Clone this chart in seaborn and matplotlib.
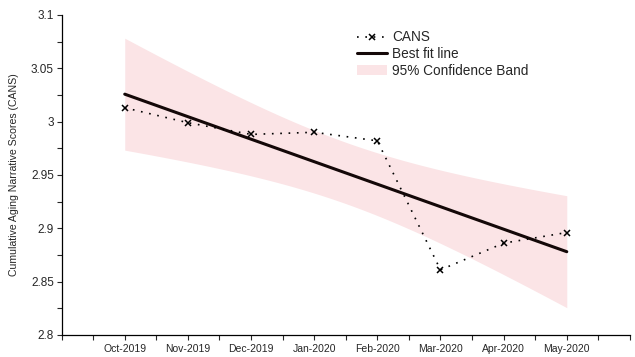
import numpy as np
import pandas as pd
import matplotlib
matplotlib.use("Agg")
import matplotlib.pyplot as plt
import matplotlib.ticker as ticker
from matplotlib.patches import Patch
from matplotlib.lines import Line2D
import seaborn as sns

# monthly CANS scores
months = ["Oct-2019", "Nov-2019", "Dec-2019", "Jan-2020",
          "Feb-2020", "Mar-2020", "Apr-2020", "May-2020"]
month_pos = [1, 2, 3, 4, 5, 6, 7, 8]
cans = [3.013, 2.999, 2.988, 2.990, 2.982, 2.861, 2.886, 2.896]

df = pd.DataFrame({"month": month_pos, "CANS": cans})

# least squares fit and 95% confidence band of the mean
x = np.array(month_pos, dtype=float)
y = np.array(cans)
slope, intercept = np.polyfit(x, y, 1)
n = len(x)
resid = y - (slope * x + intercept)
s = np.sqrt(np.sum(resid ** 2) / (n - 2))
t_crit = 2.4469  # t(0.975, df=6)
xs = np.linspace(x.min(), x.max(), 200)
fit = slope * xs + intercept
se = s * np.sqrt(1 / n + (xs - x.mean()) ** 2 / np.sum((x - x.mean()) ** 2))
fit_df = pd.DataFrame({"month": xs, "fit": fit})

sns.set_style("ticks")
plt.rcParams["font.family"] = ["Liberation Sans", "DejaVu Sans"]

fig = plt.figure(figsize=(6.35, 3.57), dpi=100)
ax = fig.add_axes([0.097, 0.062, 0.895, 0.896])

band_color = "#fbe4e6"
ax.fill_between(xs, fit - t_crit * se, fit + t_crit * se, color=band_color, lw=0)
sns.lineplot(data=fit_df, x="month", y="fit", ax=ax, color="#140808", lw=2.2)
sns.lineplot(data=df, x="month", y="CANS", ax=ax, color="black", lw=1.2,
             linestyle=(0, (1, 4)), marker="x", markersize=4.5,
             markeredgewidth=1.1, markeredgecolor="black")

ax.set_xlim(0, 9)
ax.set_ylim(2.8, 3.1)
ax.set_xticks(month_pos)
ax.set_xticklabels(months)
ax.xaxis.set_minor_locator(ticker.MultipleLocator(0.5))
ax.yaxis.set_major_locator(ticker.MultipleLocator(0.05))
ax.yaxis.set_minor_locator(ticker.MultipleLocator(0.025))
ax.yaxis.set_major_formatter(ticker.FuncFormatter(lambda v, p: f"{v:g}"))
ax.tick_params(axis="x", which="both", direction="out", length=3.5, width=0.8,
               labelsize=7.5, pad=3)
ax.tick_params(axis="y", which="both", direction="out", length=3.5, width=0.8,
               labelsize=8.5, pad=2)
ax.set_xlabel("")
ax.set_ylabel("Cumulative Aging Narrative Scores (CANS)", fontsize=7.6)
ax.yaxis.set_label_coords(-0.075, 0.5)
sns.despine(ax=ax)
for sp in ["left", "bottom"]:
    ax.spines[sp].set_linewidth(0.9)
    ax.spines[sp].set_color("black")

handles = [
    Line2D([], [], color="black", lw=1.2, linestyle=(0, (1, 4)), marker="x",
           markersize=4.5, markeredgewidth=1.1),
    Line2D([], [], color="#140808", lw=2.2),
    Patch(facecolor=band_color, edgecolor="none"),
]
ax.legend(handles, ["CANS", "Best fit line", "95% Confidence Band"],
          loc="upper left", bbox_to_anchor=(0.52, 0.952), frameon=False,
          fontsize=9.8, handlelength=2.2, handletextpad=0.35,
          labelspacing=0.2, borderpad=0, borderaxespad=0)

fig.savefig("out.png", dpi=100)
